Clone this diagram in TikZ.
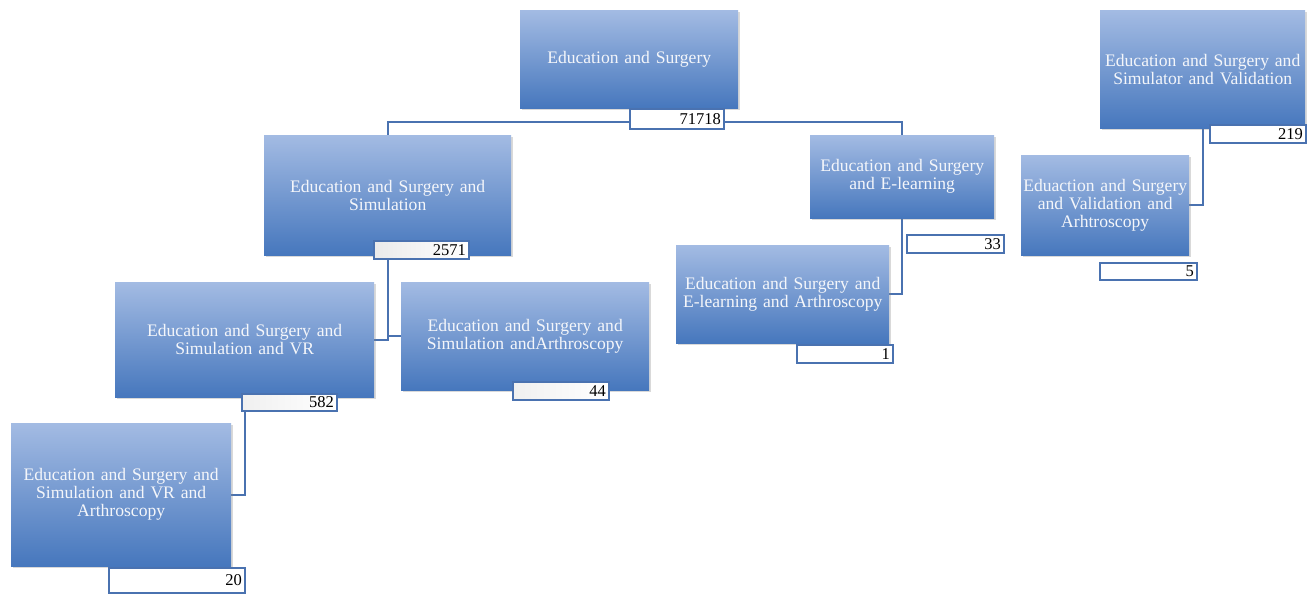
\documentclass[tikz,border=0pt]{standalone}
\usepackage{fontspec}
\setmainfont{Liberation Serif}
\usetikzlibrary{shadows,backgrounds}
\definecolor{topblue}{HTML}{A3BBE3}
\definecolor{botblue}{HTML}{4677BD}
\definecolor{lineblue}{HTML}{4A72B0}
\definecolor{txtwhite}{HTML}{F4F6FA}
\tikzset{
  gbox/.style={rectangle, anchor=north west, inner sep=2pt, align=center,
    top color=topblue, bottom color=botblue, draw=none,
    text=txtwhite, font=\fontsize{17.6}{18}\selectfont,
    drop shadow={shadow xshift=2pt, shadow yshift=-2pt, opacity=0.3}},
  numbox/.style={rectangle, anchor=north west, draw=lineblue, line width=1.8pt,
    fill=white, inner xsep=3pt, inner ysep=0pt, align=right,
    font=\fontsize{16.5}{16}\selectfont, text=black},
  conn/.style={draw=lineblue, line width=2pt}
}
\begin{document}
\begin{tikzpicture}[x=1pt,y=-1pt]
\useasboundingbox (0,0) rectangle (1314,594);
% main boxes
\node[gbox, minimum width=218, minimum height=98, text width=210] (b1) at (520,10) {Education and Surgery\\[4pt]};
\node[gbox, minimum width=247, minimum height=120, text width=235] (b2) at (264,135) {Education and Surgery and\\Simulation\\[6pt]};
\node[gbox, minimum width=184, minimum height=83, text width=180] (b3) at (810,135) {Education and Surgery\\and E-learning\\[6pt]};
\node[gbox, minimum width=205, minimum height=118, text width=201] (b4) at (1100,10) {Education and Surgery and\\Simulator and Validation\\[10pt]};
\node[gbox, minimum width=168, minimum height=100, text width=164] (b5) at (1021,155) {Eduaction and Surgery\\and Validation and\\Arhtroscopy\\[4pt]};
\node[gbox, minimum width=259, minimum height=115, text width=240] (b6) at (115,282) {Education and Surgery and\\Simulation and VR\\[6pt]};
\node[gbox, minimum width=248, minimum height=108, text width=240] (b7) at (401,282) {Education and Surgery and\\Simulation andArthroscopy\\[4pt]};
\node[gbox, minimum width=213, minimum height=98, text width=209] (b8) at (676,245) {Education and Surgery and\\E-learning and Arthroscopy\\[6pt]};
\node[gbox, minimum width=220, minimum height=143, text width=216] (b9) at (11,423) {Education and Surgery and\\Simulation and VR and\\Arthroscopy\\[8pt]};
% number boxes
\node[numbox, minimum height=20, text width=88] (n1) at (629,108) {71718};
\node[numbox, minimum height=18, text width=89, left color=black!8, right color=white] (n2) at (373,240) {2571};
\node[numbox, minimum height=18, text width=91] (n3) at (906,234) {33};
\node[numbox, minimum height=18, text width=90] (n4) at (1209,124) {219};
\node[numbox, minimum height=17, text width=91] (n5) at (1099,262) {5};
\node[numbox, minimum height=17, text width=89, left color=black!6, right color=white] (n6) at (241,393) {582};
\node[numbox, minimum height=18, text width=90, left color=black!6, right color=white] (n7) at (512,381) {44};
\node[numbox, minimum height=18, text width=90] (n8) at (796,344) {1};
\node[numbox, minimum height=25, text width=130] (n9) at (108,567) {20};
% connectors
\begin{pgfonlayer}{background}
\draw[conn] (b2.north) |- ([yshift=-3pt]n1.west);
\draw[conn] ([yshift=-3pt]n1.east) -| (b3.north);
\draw[conn] (b2.south) |- (b6.east);
\draw[conn] (b2.south) |- (b7.west);
\draw[conn] (b6.south) |- (b9.east);
\draw[conn] (b3.south) |- (b8.east);
\draw[conn] (b4.south) |- (b5.east);
\end{pgfonlayer}
\end{tikzpicture}
\end{document}
